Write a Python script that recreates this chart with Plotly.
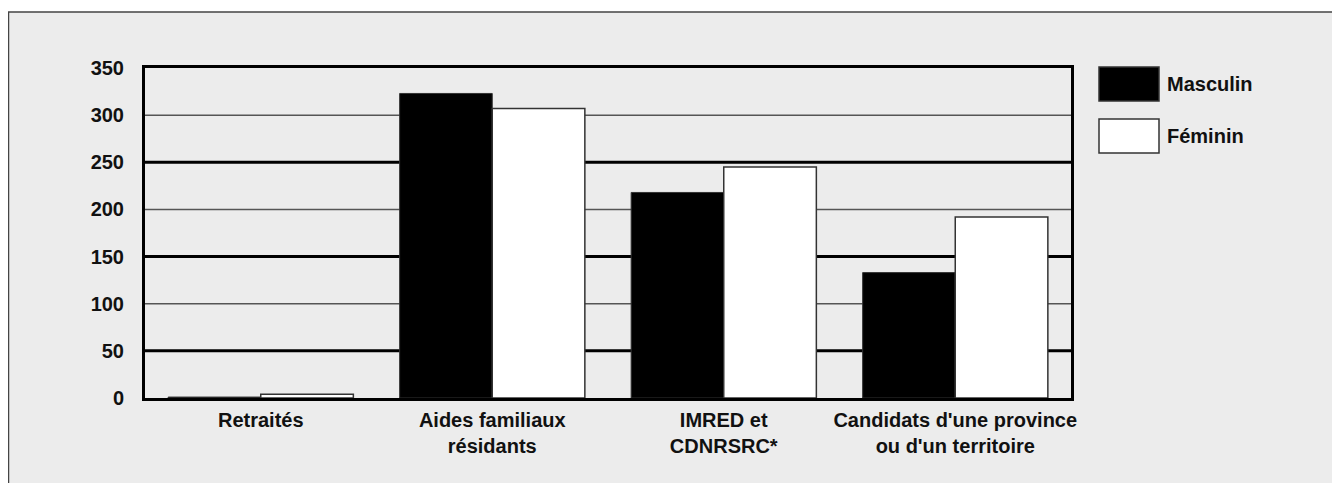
import plotly.graph_objects as go

categories = ["Retraités", "Aides familiaux<br>résidants", "IMRED et<br>CDNRSRC*",
              "Candidats d'une province<br>ou d'un territoire"]
masculin = [1, 323, 218, 133]
feminin = [4, 307, 245, 192]
series_names = ["Masculin", "Féminin"]
y_ticks = [0, 50, 100, 150, 200, 250, 300, 350]
thick_grid = [50, 150, 250]
thin_grid = [100, 200, 300]

W, H = 1340, 483
OFF = 8  # page body margin
L, T = 145 - OFF, 68 - OFF
R, B = W - (1071 - OFF), H - (398 - OFF)
PW, PH = W - L - R, H - T - B
FONT = dict(family="Liberation Sans, Arial, sans-serif", size=20, color="#111")


def px_x(x):
    # screen pixel -> paper fraction
    return (x - OFF - L) / PW


def px_y(y):
    return (H - B - (y - OFF)) / PH


fig = go.Figure()
fig.add_trace(go.Bar(x=categories, y=masculin, name=series_names[0],
                     marker=dict(color="black", line=dict(color="#333", width=1))))
fig.add_trace(go.Bar(x=categories, y=feminin, name=series_names[1],
                     marker=dict(color="white", line=dict(color="#333", width=1.5))))

shapes = []
# gray panel with its frame (runs off the right/bottom edge)
shapes.append(dict(type="rect", xref="paper", yref="paper",
                   x0=px_x(8.5), x1=px_x(W + 40), y0=px_y(H + 40), y1=px_y(12),
                   line=dict(color="#444", width=1.5), fillcolor="#ececec", layer="below"))
# gridlines: heavy black / thin gray alternating, kept under the bars
for v in thin_grid:
    shapes.append(dict(type="line", xref="paper", yref="y", x0=0, x1=1, y0=v, y1=v,
                       line=dict(color="#555", width=1.5), layer="below"))
for v in thick_grid:
    shapes.append(dict(type="line", xref="paper", yref="y", x0=0, x1=1, y0=v, y1=v,
                       line=dict(color="black", width=3), layer="below"))

# legend drawn by hand to get the large swatches
annotations = []
for i, (name, col) in enumerate(zip(series_names, ["black", "white"])):
    top = 67 + i * 52
    shapes.append(dict(type="rect", xref="paper", yref="paper",
                       x0=px_x(1099), x1=px_x(1159), y0=px_y(top + 34), y1=px_y(top),
                       fillcolor=col, line=dict(color="#333", width=1.5)))
    annotations.append(dict(text="<b>%s</b>" % name, xref="paper", yref="paper",
                            x=px_x(1165), y=px_y(top + 17), xanchor="left", yanchor="middle",
                            showarrow=False, font=FONT))

fig.update_layout(
    width=W, height=H,
    margin=dict(l=L, r=R, t=T, b=B),
    paper_bgcolor="white", plot_bgcolor="white",
    barmode="group", bargap=0.2, bargroupgap=0,
    showlegend=False,
    font=FONT,
    shapes=shapes, annotations=annotations,
)
fig.update_xaxes(showline=True, linecolor="black", linewidth=3, mirror=True,
                 ticks="", tickfont=dict(FONT, weight="bold"), ticklabelstandoff=2)
fig.update_yaxes(range=[0, 350], tickvals=y_ticks, showline=True, linecolor="black",
                 linewidth=3, mirror=True, ticks="", showgrid=False, zeroline=False,
                 tickfont=dict(FONT, weight="bold"), ticklabelstandoff=14)

fig.write_html("out.html")
